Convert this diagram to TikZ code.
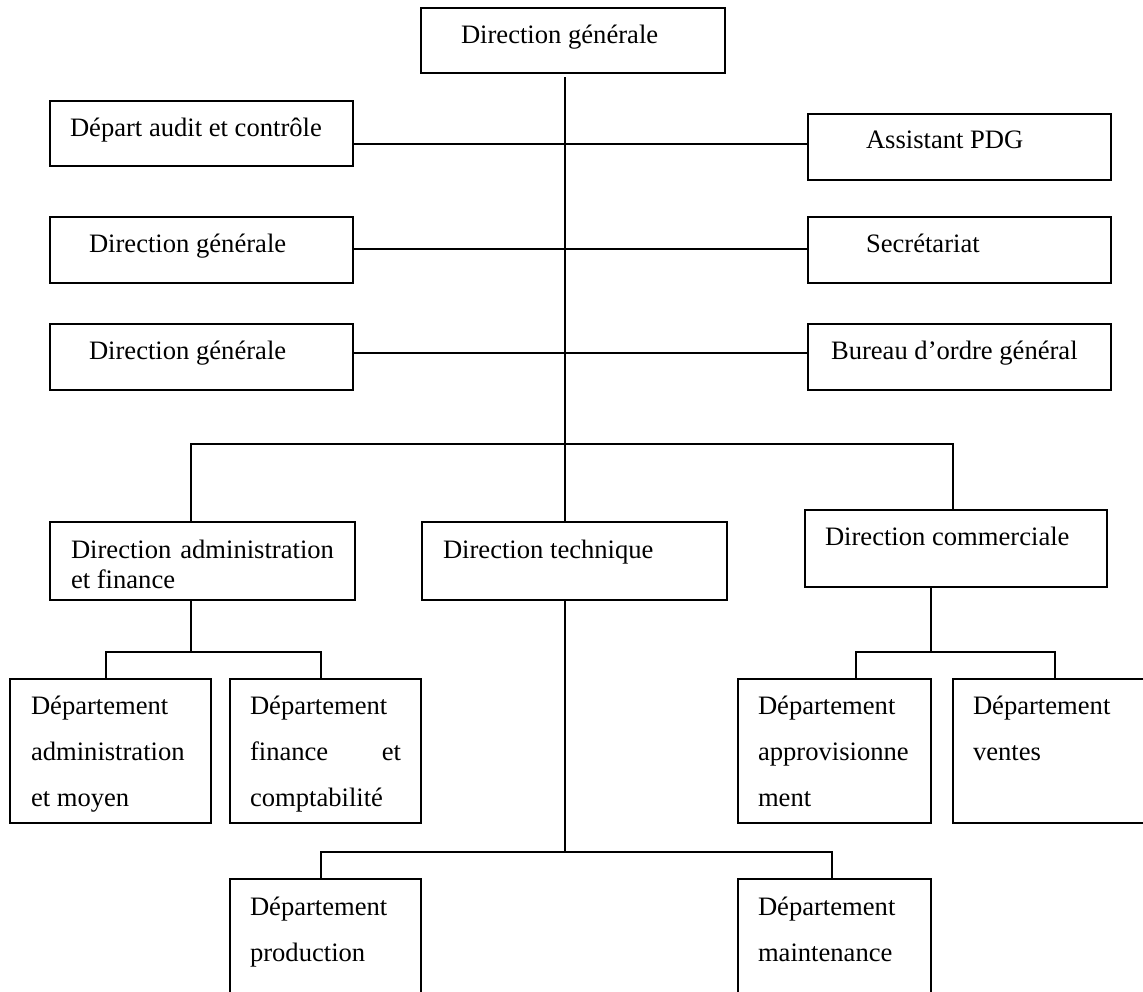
\documentclass[tikz,border=0pt]{standalone}
\usepackage{fontspec}
\setmainfont{Liberation Serif}
\newcommand{\orgfont}{\fontsize{26.6}{32}\selectfont}
\begin{document}
\begin{tikzpicture}[x=1pt,y=-1pt,
  box/.style={draw=black, line width=1.8pt, rectangle, inner sep=0pt, outer sep=0pt, anchor=north west},
  lbl/.style={anchor=base west, inner sep=0pt, outer sep=0pt, font=\orgfont, text=black},
  lblr/.style={anchor=base east, inner sep=0pt, outer sep=0pt, font=\orgfont, text=black},
  link/.style={draw=black, line width=1.4pt}]
\useasboundingbox (0,0) rectangle (1143,991);
\clip (0,0) rectangle (1143,991);
\fill[white] (0,0) rectangle (1143,991);

% boxes: top of the chart
\node[box, minimum width=304, minimum height=65] (dg)   at (421,8)   {};
\node[box, minimum width=303, minimum height=65] (dac)  at (50,101)  {};
\node[box, minimum width=303, minimum height=66] (apdg) at (808,114) {};
\node[box, minimum width=303, minimum height=66] (dg2)  at (50,217)  {};
\node[box, minimum width=303, minimum height=66] (sec)  at (808,217) {};
\node[box, minimum width=303, minimum height=66] (dg3)  at (50,324)  {};
\node[box, minimum width=303, minimum height=66] (bog)  at (808,324) {};

% boxes: directions
\node[box, minimum width=305, minimum height=78] (daf) at (50,522)  {};
\node[box, minimum width=305, minimum height=78] (dt)  at (422,522) {};
\node[box, minimum width=302, minimum height=77] (dc)  at (805,510) {};

% boxes: departments
\node[box, minimum width=201, minimum height=144] (dam) at (10,679)  {};
\node[box, minimum width=191, minimum height=144] (dfc) at (230,679) {};
\node[box, minimum width=193, minimum height=144] (dap) at (738,679) {};
\node[box, minimum width=210, minimum height=144] (dv)  at (953,679) {};
\node[box, minimum width=191, minimum height=140] (dp)  at (230,879) {};
\node[box, minimum width=193, minimum height=140] (dmt) at (738,879) {};

% labels
\node[lbl] (dg-t)   at (461,43)  {Direction générale};
\node[lbl] (dac-t)  at (70,136)  {Départ audit et contrôle};
\node[lbl] (apdg-t) at (866,148) {Assistant PDG};
\node[lbl] (dg2-t)  at (89,252)  {Direction générale};
\node[lbl] (sec-t)  at (866,252) {Secrétariat};
\node[lbl] (dg3-t)  at (89,359)  {Direction générale};
\node[lbl] (bog-t)  at (831,359) {Bureau d’ordre général};

\node[lbl]  (daf-t1) at (71,558)  {Direction};
\node[lblr] (daf-t2) at (334,558) {administration};
\node[lbl]  (daf-t3) at (71,588)  {et finance};
\node[lbl]  (dt-t)   at (443,558) {Direction technique};
\node[lbl]  (dc-t)   at (825,545) {Direction commerciale};

\node[lbl] (dam-t1) at (31,714) {Département};
\node[lbl] (dam-t2) at (31,760) {administration};
\node[lbl] (dam-t3) at (31,806) {et moyen};

\node[lbl]  (dfc-t1) at (250,714) {Département};
\node[lbl]  (dfc-t2) at (250,760) {finance};
\node[lblr] (dfc-t3) at (401,760) {et};
\node[lbl]  (dfc-t4) at (250,806) {comptabilité};

\node[lbl] (dap-t1) at (758,714) {Département};
\node[lbl] (dap-t2) at (758,760) {approvisionne};
\node[lbl] (dap-t3) at (758,806) {ment};

\node[lbl] (dv-t1) at (973,714) {Département};
\node[lbl] (dv-t2) at (973,760) {ventes};

\node[lbl] (dp-t1) at (250,915) {Département};
\node[lbl] (dp-t2) at (250,961) {production};

\node[lbl] (dmt-t1) at (758,915) {Département};
\node[lbl] (dmt-t2) at (758,961) {maintenance};

% connector routing points
\coordinate (trunk) at (565,77);
\coordinate (r1) at (565,144);
\coordinate (r2) at (565,249);
\coordinate (r3) at (565,353);
\coordinate (busl) at (191,444);
\coordinate (busr) at (953,444);
\coordinate (afbus) at (191,652);
\coordinate (cbus) at (931,652);
\coordinate (tbus) at (565,852);

% main trunk and side links
\draw[link] (trunk) -- (dt.north -| trunk);
\draw[link] (dac.east |- r1) -- (apdg.west |- r1);
\draw[link] (dg2.east |- r2) -- (sec.west |- r2);
\draw[link] (dg3.east |- r3) -- (bog.west |- r3);

% bus to the three directions
\draw[link] (daf.north -| busl) -- (busl) -- (busr) -- (dc.north -| busr);

% administration and finance departments
\draw[link] (daf.south -| afbus) -- (afbus);
\draw[link] (dam.north -| 106,0) |- (afbus) -| (dfc.north -| 321,0);

% commercial departments
\draw[link] (dc.south -| cbus) -- (cbus);
\draw[link] (dap.north -| 856,0) |- (cbus) -| (dv.north -| 1055,0);

% technical departments
\draw[link] (dt.south -| tbus) -- (tbus);
\draw[link] (dp.north -| 321,0) |- (tbus) -| (dmt.north -| 832,0);
\end{tikzpicture}
\end{document}
